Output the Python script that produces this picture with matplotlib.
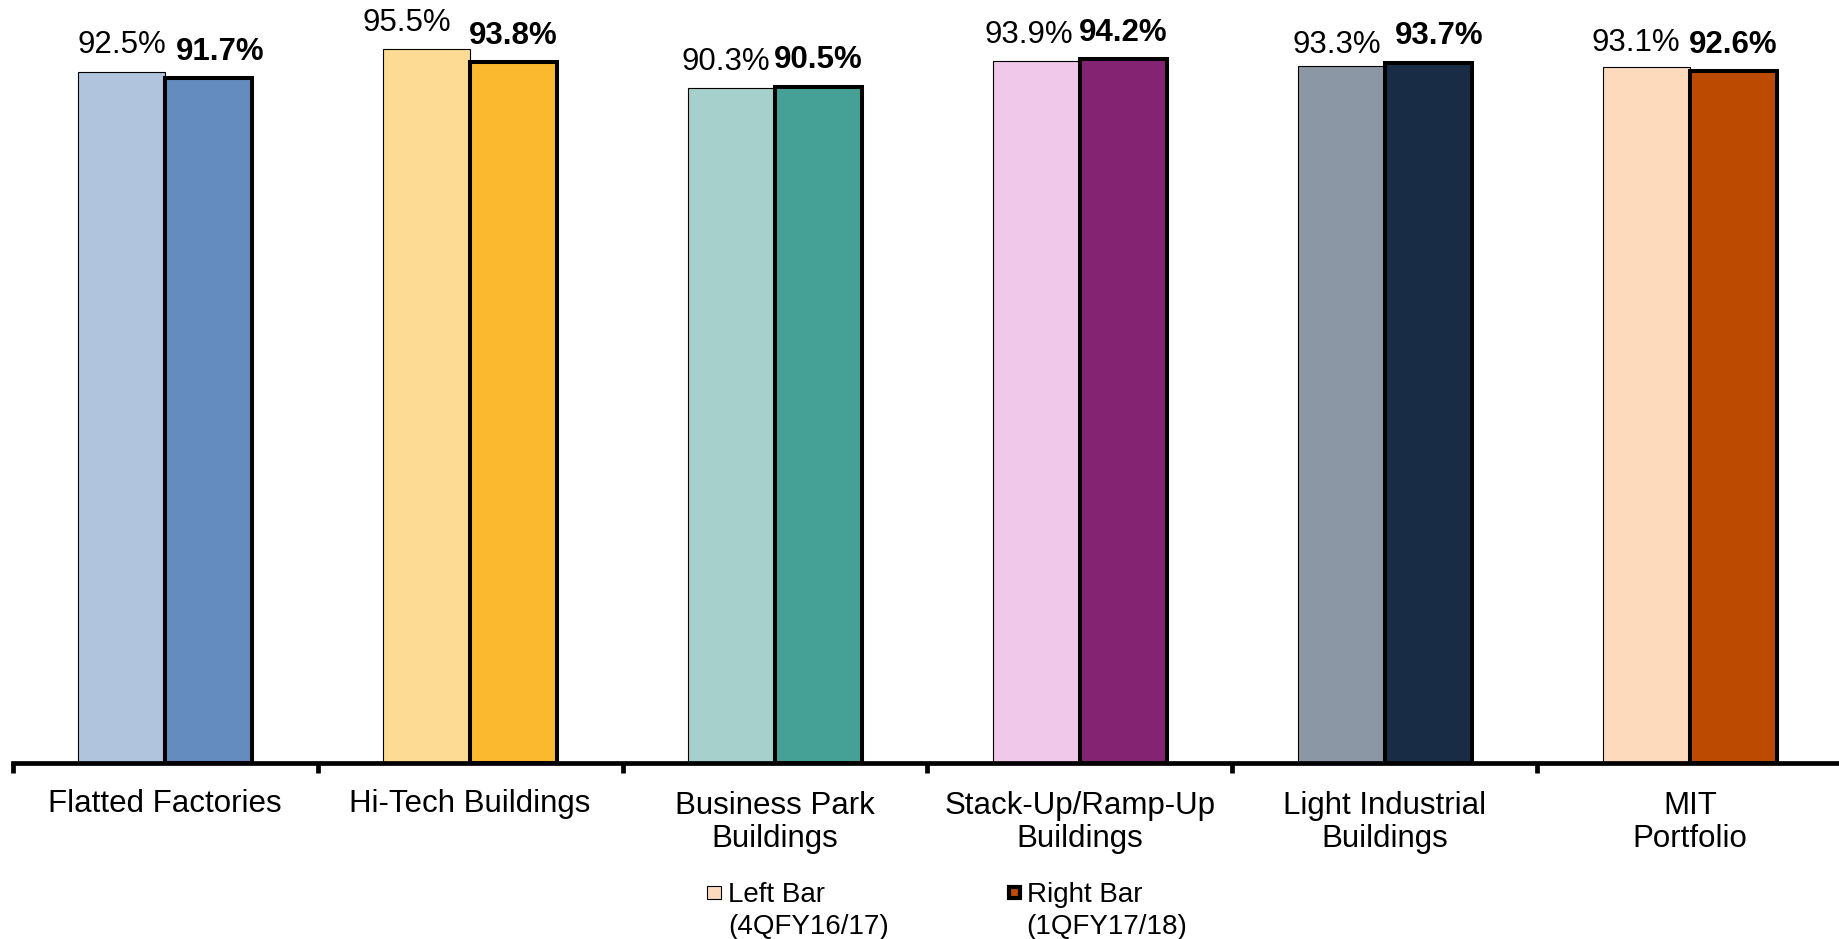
import numpy as np
import matplotlib.pyplot as plt
from matplotlib.patches import Rectangle

plt.rcParams['font.family'] = ['Liberation Sans', 'DejaVu Sans']

# occupancy by property segment
categories = ['Flatted Factories', 'Hi-Tech Buildings', 'Business Park\nBuildings',
              'Stack-Up/Ramp-Up\nBuildings', 'Light Industrial\nBuildings', 'MIT\nPortfolio']
prev_qtr = [92.5, 95.5, 90.3, 93.9, 93.3, 93.1]   # 4QFY16/17
curr_qtr = [91.7, 93.8, 90.5, 94.2, 93.7, 92.6]   # 1QFY17/18

light_colors = ['#B0C4DE', '#FDDB95', '#A5D0CB', '#EFC8EA', '#8B97A4', '#FEDABD']
dark_colors = ['#658CBF', '#FBB92F', '#45A096', '#832372', '#192C46', '#BC4A00']

# hand nudges (points) so neighbouring value labels don't collide
prev_dx = [0, -14, -3.8, -5.7, -3.6, -7.5]
curr_dx = [8.3, 0, 0, 0, 7.8, 0]
prev_dy = [13.2, 13.2, 13.2, 13.2, 9.0, 11.5]
curr_dy = [12.5, 13.2, 13.2, 13.2, 13.2, 13.2]

FS = 22.5
LS = 1.12

fig = plt.figure(figsize=(18.39, 9.39), dpi=100)
ax = fig.add_axes([0.0068, 0.1874, 0.9951, 0.796])

x = np.arange(len(categories))
w = 0.285
ax.bar(x - w / 2, prev_qtr, w, color=light_colors, edgecolor='black', linewidth=0.8, zorder=2)
ax.bar(x + w / 2, curr_qtr, w, color=dark_colors, edgecolor='black', linewidth=2.9, zorder=3)

for i in range(len(categories)):
    ax.annotate(f'{prev_qtr[i]:.1f}%', (x[i] - w / 2, prev_qtr[i]),
                xytext=(prev_dx[i], prev_dy[i]), textcoords='offset points',
                ha='center', va='baseline', fontsize=FS)
    ax.annotate(f'{curr_qtr[i]:.1f}%', (x[i] + w / 2, curr_qtr[i]),
                xytext=(curr_dx[i], curr_dy[i]), textcoords='offset points',
                ha='center', va='baseline', fontsize=FS, fontweight='bold')

ax.set_xlim(-0.5, len(categories) - 0.5)
ax.set_ylim(0, 100)

for side in ['top', 'right', 'left']:
    ax.spines[side].set_visible(False)
ax.spines['bottom'].set_linewidth(3.4)
ax.spines['bottom'].set_zorder(5)
ax.set_yticks([])

# ticks sit on the category boundaries, names go under the centres
ax.set_xticks(np.arange(len(categories) + 1) - 0.5)
ax.set_xticklabels([])
ax.tick_params(axis='x', direction='out', length=7, width=3.4)
for i, name in enumerate(categories):
    # baseline alignment uses the last line, so push two-line names down
    extra = name.count('\n') * LS * FS
    ax.annotate(name, (x[i], 0), xycoords=('data', 'axes fraction'),
                xytext=(0, -35 - extra), textcoords='offset points',
                ha='center', va='baseline', fontsize=FS, linespacing=LS)

# legend drawn by hand: square key next to a two-line label
fig.add_artist(Rectangle((0.3846, 0.0428), 0.00723, 0.01416, transform=fig.transFigure,
                         facecolor=light_colors[-1], edgecolor='black', linewidth=0.8))
fig.add_artist(Rectangle((0.5484, 0.0437), 0.00598, 0.01171, transform=fig.transFigure,
                         facecolor=dark_colors[-1], edgecolor='black', linewidth=3.0))
fig.text(0.396, 0.0397, 'Left Bar', fontsize=20, va='baseline')
fig.text(0.396, 0.0053, '(4QFY16/17)', fontsize=20, va='baseline')
fig.text(0.5583, 0.0397, 'Right Bar', fontsize=20, va='baseline')
fig.text(0.5583, 0.0053, '(1QFY17/18)', fontsize=20, va='baseline')

fig.savefig('out.png', dpi=100)
